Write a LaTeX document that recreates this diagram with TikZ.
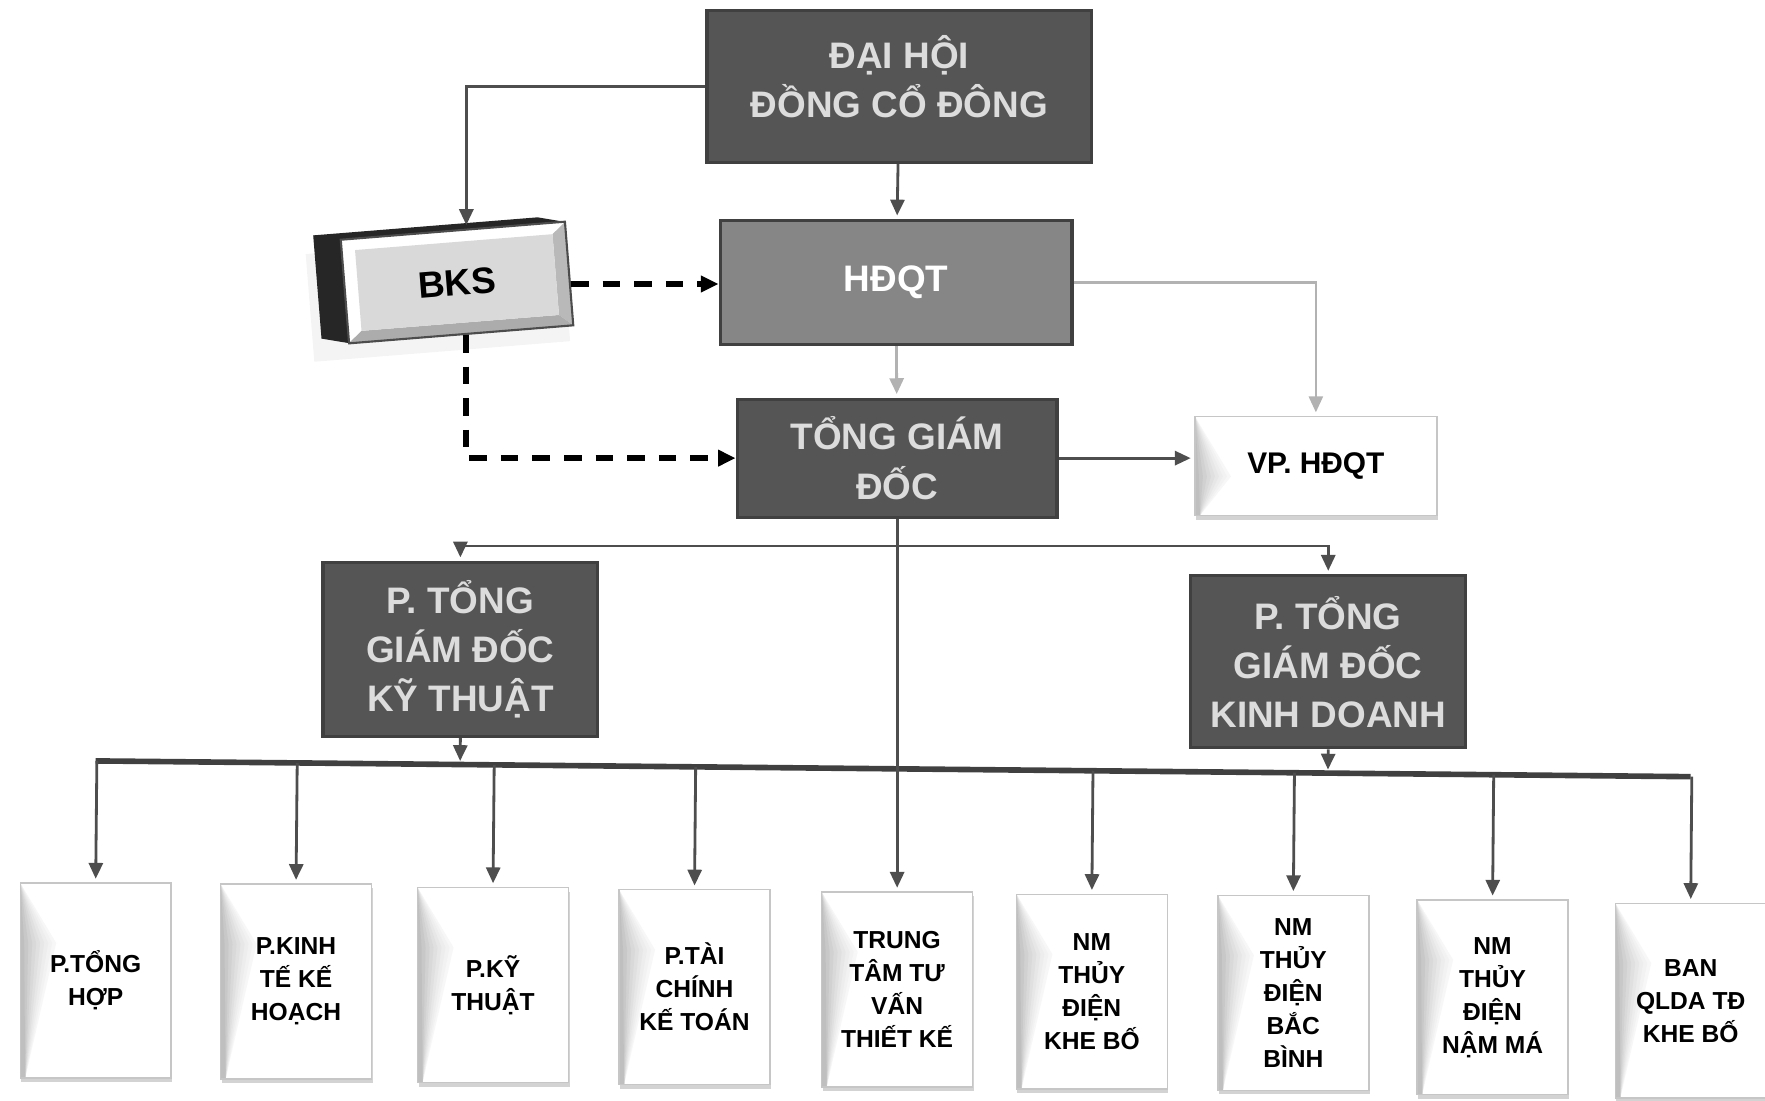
\documentclass[tikz,border=0pt]{standalone}
\usepackage{fontspec}
\setmainfont{Liberation Sans}
\usepackage{tikz}
\usetikzlibrary{arrows.meta,calc,shadows}
\definecolor{boxdark}{HTML}{555555}
\definecolor{boxmid}{HTML}{868686}
\definecolor{linegray}{HTML}{4E4E4E}
\definecolor{textlight}{HTML}{DCDCDC}

\begin{document}
\begin{tikzpicture}[x=0.011256cm,y=-0.011256cm,
    arr/.style={-{Triangle[length=4.5pt,width=4pt]},line width=0.8pt,draw=linegray,shorten >=1pt},
    dashl/.style={-{Triangle[length=5pt,width=4.5pt]},line width=1.6pt,dash pattern=on 5pt off 4pt,draw=black},
    fold/.style={draw=gray!45,fill=white,align=center,font=\bfseries\fontsize{7}{9.4}\selectfont,
      path picture={
        \foreach \w/\c in {0.36/6,0.32/10,0.28/14,0.24/19,0.2/24,0.16/30,0.12/36,0.08/43,0.04/50}
          \fill[gray!\c] (path picture bounding box.north west) -- ([xshift=\w cm,yshift=-0.6cm]path picture bounding box.north west)
            -- ([xshift=0.05cm]path picture bounding box.south west) -- (path picture bounding box.south west) -- cycle;},
      drop shadow={shadow xshift=0.3pt,shadow yshift=-1.2pt,opacity=0.35}}]
    \useasboundingbox (0,0) rectangle (1568,978);
    \begin{scope}[every node/.style={fill=boxdark,draw=black!75,line width=0.9pt,text=textlight,align=center,font=\bfseries\fontsize{10.5}{14}\selectfont}]
      \node[minimum width=3.85cm,minimum height=1.52cm,text depth=0.2cm] (dhcd) at (799,77) {ĐẠI HỘI\\ĐỒNG CỔ ĐÔNG};
      \node[fill=boxmid,text=white,minimum width=3.52cm,minimum height=1.24cm] (hdqt) at (796,251) {HĐQT};
      \node[minimum width=3.2cm,minimum height=1.18cm] (tgd) at (797,407) {TỔNG GIÁM\\ĐỐC};
      \node[minimum width=2.75cm,minimum height=1.74cm] (pkt) at (409,577) {P. TỔNG\\GIÁM ĐỐC\\KỸ THUẬT};
      \node[minimum width=2.75cm,minimum height=1.72cm] (pkd) at (1180,588) {P. TỔNG\\GIÁM ĐỐC\\KINH DOANH};
    \end{scope}
    \begin{scope}[shift={(406,251)},rotate=4.6]
      \fill[gray!9] (-132,-36) rectangle (96,60);
      \fill[black!85] (-124,-52) -- (76,-52) -- (100,-46) -- (100,46) -- (-100,46) -- (-124,40) -- cycle;
      \fill[white] (-100,-46) rectangle (100,46);
      \fill[gray!55] (100,-46) -- (100,46) -- (88,36) -- (88,-36) -- cycle;
      \fill[gray!65] (-100,46) -- (100,46) -- (88,36) -- (-88,36) -- cycle;
      \fill[gray!30] (-88,-36) rectangle (88,36);
      \node[transform shape,draw=black!70,line width=0.6pt,minimum width=2.25cm,minimum height=1.04cm,font=\bfseries\fontsize{10.5}{14}\selectfont] (bks) at (0,0) {BKS};
    \end{scope}
    \node[fold,minimum width=2.42cm,minimum height=0.99cm,font=\bfseries\fontsize{8.5}{10}\selectfont] (vp) at (1169,414) {VP. HĐQT};
    \begin{scope}[every node/.style={fold,minimum width=1.51cm,minimum height=1.95cm}]
      \node (u1) at (85,871) {P.TỔNG\\HỢP};
      \node (u2) at (263,872) {P.KINH\\TẾ KẾ\\HOẠCH};
      \node (u3) at (438,875) {P.KỸ\\THUẬT};
      \node (u4) at (617,877) {P.TÀI\\CHÍNH\\KẾ TOÁN};
      \node (u5) at (797,879) {TRUNG\\TÂM TƯ\\VẤN\\THIẾT KẾ};
      \node (u6) at (970,881) {NM\\THỦY\\ĐIỆN\\KHE BỐ};
      \node (u7) at (1149,882) {NM\\THỦY\\ĐIỆN\\BẮC\\BÌNH};
      \node (u8) at (1326,886) {NM\\THỦY\\ĐIỆN\\NẬM MÁ};
      \node (u9) at (1502,889) {BAN\\QLDA TĐ\\KHE BỐ};
    \end{scope}
    \coordinate (busL) at (85,676);
    \coordinate (busR) at (1502,690);
    \coordinate (split) at (797,485);
    \coordinate (bksN) at ($(bks.north west)!0.56!(bks.north east)$);
    \coordinate (bksE) at ($(bks.north east)!0.6!(bks.south east)$);
    \coordinate (bksS) at ($(bks.south west)!0.52!(bks.south east)$);
    \draw[line width=1.6pt,draw=black!75] (busL) -- (busR);
    \path (dhcd) edge[arr] (hdqt);
    \path (hdqt) edge[arr,draw=gray!60] (tgd);
    \draw[arr,draw=gray!60,line width=0.6pt] (hdqt.east) -| (vp.north);
    \draw[arr] (tgd.east) -- (tgd.east -| vp.west);
    \draw[arr] (dhcd.west) -| (bksN);
    \draw[dashl] (bksE) -- (bksE -| hdqt.west);
    \draw[dashl] (bksS) |- (tgd.west);
    \draw[arr] (tgd.south) -- (u5.north);
    \draw[arr] (split) -| (pkt.north);
    \draw[arr] (split) -| (pkd.north);
    \draw[arr] (pkt.south) -- ($(busL)!(pkt.south)!(busR)$);
    \draw[arr] (pkd.south) -- ($(busL)!(pkd.south)!(busR)$);
    \foreach \u in {1,2,3,4,6,7,8,9}
      \draw[arr] ($(busL)!(u\u.north)!(busR)$) -- (u\u.north);
  \end{tikzpicture}
\end{document}
